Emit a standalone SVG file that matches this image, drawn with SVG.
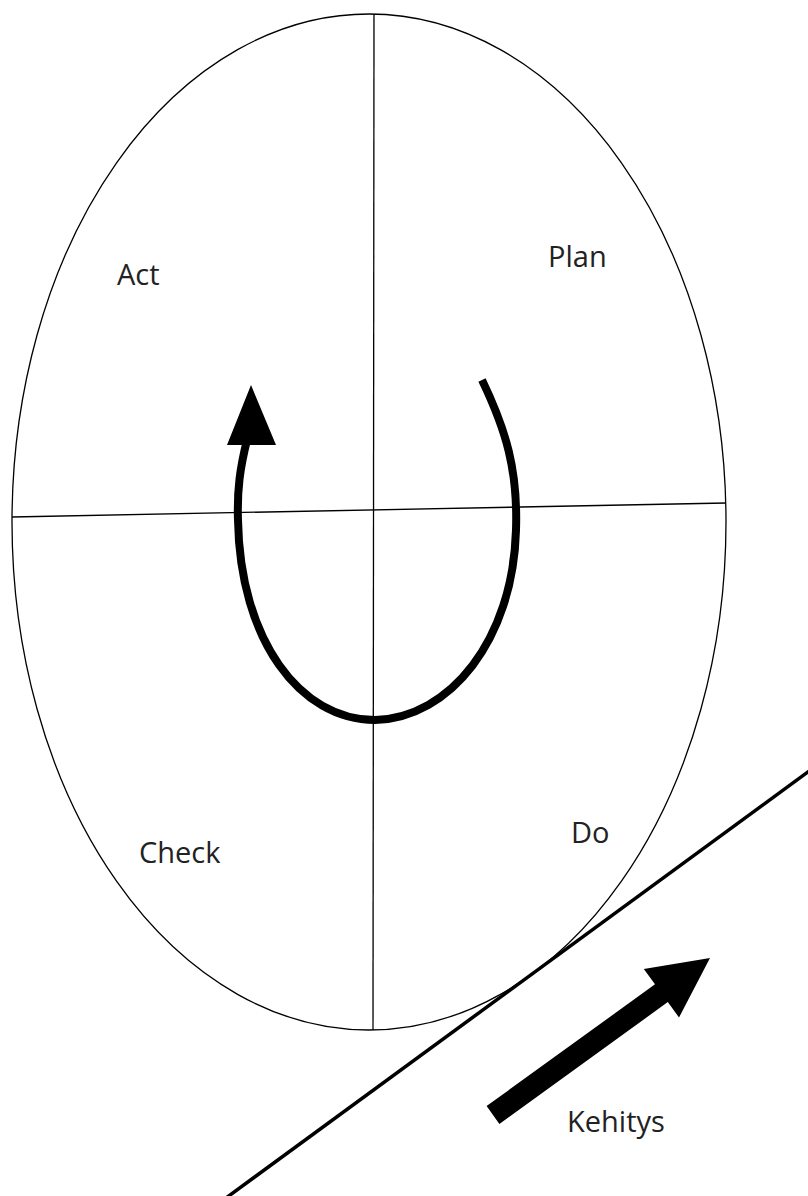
<svg xmlns="http://www.w3.org/2000/svg" width="808" height="1196" viewBox="0 0 808 1196">
<style>
.thin{fill:none;stroke:#000;stroke-width:1.3}
.lbl{font-family:"Open Sans","Liberation Sans",sans-serif;font-size:29px;fill:#222}
</style>
<rect width="808" height="1196" fill="#fff"/>
<g id="circle">
<ellipse class="thin" cx="369" cy="522" rx="357" ry="508"/>
<line class="thin" x1="374" y1="14" x2="373" y2="1030"/>
<line class="thin" x1="12" y1="517" x2="726" y2="503"/>
</g>
<g id="act"><text class="lbl" x="117" y="285">Act</text></g>
<g id="plan"><text class="lbl" x="548" y="267">Plan</text></g>
<g id="check"><text class="lbl" x="139" y="863">Check</text></g>
<g id="do"><text class="lbl" x="571" y="843">Do</text></g>
<g id="kehitys"><text class="lbl" x="567" y="1132">Kehitys</text></g>
<g id="connectors">
<path d="M 482 380 C 506 430, 518 470, 516 530 C 513 640, 450 718, 375 720 C 300 720, 240 640, 238 520 C 237 490, 240 468, 247 440" fill="none" stroke="#000" stroke-width="8"/>
<polygon points="251,385 227,445 276,445" fill="#000"/>
<line x1="812" y1="769" x2="226" y2="1198" stroke="#000" stroke-width="3.5"/>
<polygon points="486.6,1106.1 655,984.3 643.8,968.9 710,958 679,1017.5 667.8,1002.1 499.4,1123.9" fill="#000"/>
</g>
</svg>
